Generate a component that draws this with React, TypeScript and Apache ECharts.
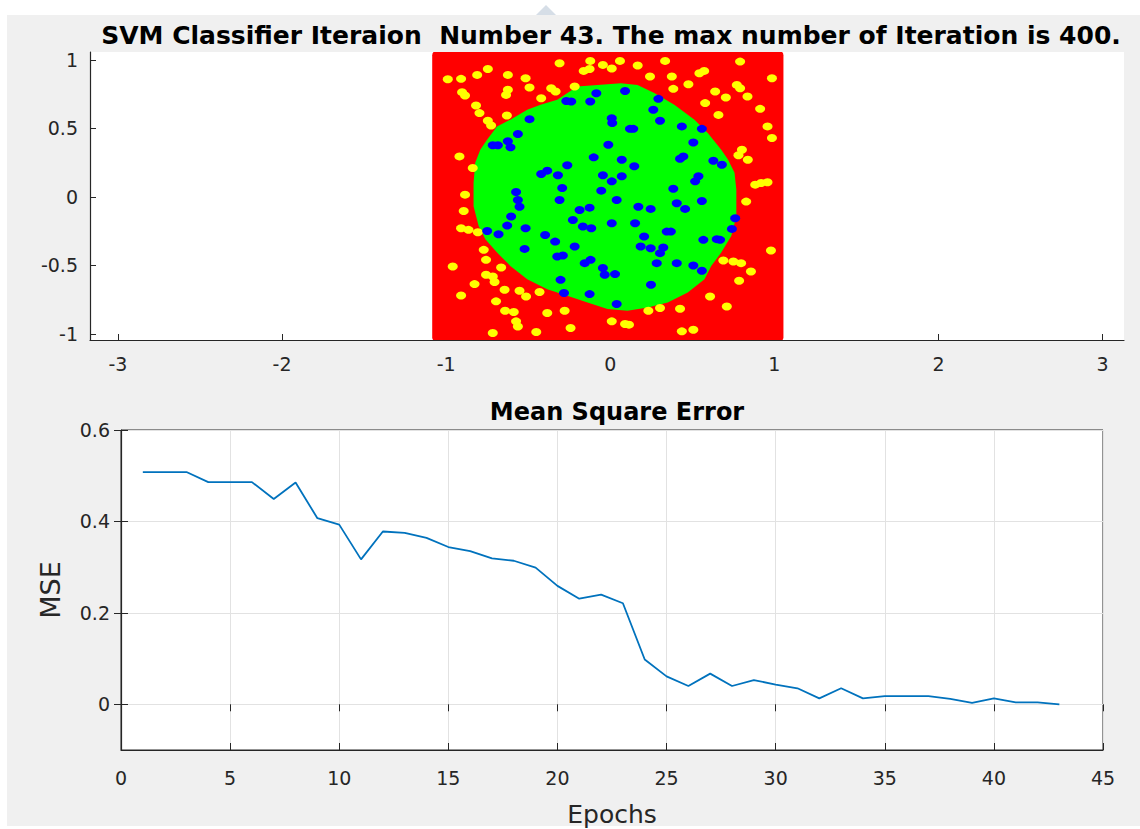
import React, { useEffect, useRef } from "react";
import * as echarts from "echarts";

// ---------- Data ----------
const titleTop = "SVM Classifier Iteraion  Number 43. The max number of Iteration is 400.";
const titleBottom = "Mean Square Error";

const xTicksTop = [-3, -2, -1, 0, 1, 2, 3];
const yTicksTop = [-1, -0.5, 0, 0.5, 1];
const yTicksBottom = [0, 0.2, 0.4, 0.6];

// red (class -1) decision region extent
const redX = [-1.085, 1.055];
const redY = [-1.06, 1.07];

// green (class +1) decision region boundary
const greenX = [-0.323, -0.201, -0.078, 0.064, 0.166, 0.268, 0.39, 0.513, 0.594, 0.676, 0.717, 0.757, 0.768, 0.768, 0.737, 0.676, 0.615, 0.574, 0.472, 0.35, 0.228, 0.105, -0.017, -0.139, -0.262, -0.384, -0.506, -0.609, -0.69, -0.761, -0.802, -0.833, -0.833, -0.823, -0.792, -0.751, -0.69, -0.609, -0.506, -0.425];
const greenY = [0.709, 0.806, 0.818, 0.83, 0.818, 0.758, 0.673, 0.564, 0.467, 0.345, 0.273, 0.176, 0.055, -0.14, -0.285, -0.406, -0.503, -0.6, -0.697, -0.77, -0.806, -0.83, -0.818, -0.77, -0.721, -0.673, -0.6, -0.503, -0.406, -0.309, -0.212, -0.067, 0.103, 0.249, 0.345, 0.418, 0.515, 0.564, 0.636, 0.673];

const yellowX = [
  -0.99, -0.909, -0.811, -0.746, -0.624, -0.516, -0.903, -0.885, -0.624, -0.635, -0.492, -0.36, -0.333, -0.421, -0.309, -0.217, -0.122, -0.162, -0.126, -0.045, -0.818, -0.797, -0.746, -0.726, -0.63, -0.919, -0.838, -0.885,
  0.059, 0.009, 0.167, 0.334, 0.242, 0.375, 0.384, 0.476, 0.543, 0.572, 0.791, 0.985, 0.639, 0.704, 0.771, 0.791, 0.836, 0.578, 0.659, 0.913, 0.958, 0.985, 0.802, 0.781, 0.838, 0.883, 0.919, 0.958,
  -0.893, -0.909, -0.864, -0.807, -0.771, -0.757, -0.96, -0.757, -0.716, -0.705, -0.665, -0.827, -0.909, -0.644, -0.553, -0.513, -0.431, -0.696, -0.641, -0.588, -0.574, -0.563, -0.384, -0.278, -0.716, -0.451, -0.242,
  0.828, 0.979, 0.689, 0.75, 0.797, 0.857, 0.785, 0.608, 0.71, 0.232, 0.303, 0.425, 0.009, 0.09, 0.114, 0.436, 0.506,
];
const yellowY = [
  0.859, 0.862, 0.891, 0.934, 0.891, 0.867, 0.765, 0.741, 0.782, 0.745, 0.799, 0.794, 0.77, 0.721, 0.976, 0.806, 0.993, 0.92, 0.934, 0.964, 0.668, 0.612, 0.556, 0.522, 0.595, 0.296, 0.211, 0.017,
  0.993, 0.937, 0.959, 0.993, 0.879, 0.879, 0.789, 0.823, 0.903, 0.92, 0.988, 0.867, 0.77, 0.726, 0.818, 0.794, 0.733, 0.685, 0.599, 0.643, 0.515, 0.43, 0.345, 0.304, 0.272, 0.09, 0.102, 0.107,
  -0.102, -0.228, -0.24, -0.257, -0.386, -0.459, -0.508, -0.568, -0.58, -0.621, -0.515, -0.636, -0.719, -0.677, -0.685, -0.726, -0.694, -0.762, -0.83, -0.84, -0.908, -0.945, -0.847, -0.83, -0.993, -0.985, -0.956,
  -0.034, -0.391, -0.464, -0.471, -0.483, -0.544, -0.612, -0.726, -0.799, -0.83, -0.811, -0.816, -0.908, -0.927, -0.932, -0.981, -0.969,
];

const blueX = [
  -0.085, -0.122, -0.268, -0.238, -0.492, -0.563, -0.624, -0.608, -0.716, -0.685, -0.101, -0.262, -0.421, -0.384, -0.319, -0.045, -0.293, -0.574, -0.055,
  0.09, 0.293, 0.262, 0.303, 0.009, 0.012, 0.12, 0.14, 0.436, 0.558, 0.506, -0.012, 0.445, 0.425, 0.07, 0.628, 0.68, 0.146, 0.07, 0.009, 0.537, 0.517, 0.384,
  -0.563, -0.553, -0.309, -0.187, -0.126, -0.604, -0.628, -0.75, -0.681, -0.516, -0.397, -0.336, -0.228, -0.167, -0.116, -0.217, -0.522, -0.323, -0.289, -0.156, -0.12, -0.045, -0.034, -0.303, -0.282, -0.126,
  0.039, 0.171, 0.246, 0.405, 0.456, 0.558, 0.009, 0.151, 0.206, 0.344, 0.369, 0.185, 0.246, 0.323, 0.303, 0.283, 0.405, 0.506, 0.558, 0.567, 0.649, 0.669, 0.741, 0.761, 0.029, 0.248, 0.039,
];
const blueY = [
  0.757, 0.697, 0.701, 0.697, 0.568, 0.459, 0.406, 0.362, 0.377, 0.377, 0.289, 0.231, 0.168, 0.192, 0.158, 0.158, 0.066, 0.036, 0.046,
  0.774, 0.716, 0.636, 0.556, 0.575, 0.539, 0.497, 0.497, 0.515, 0.497, 0.398, 0.381, 0.296, 0.279, 0.272, 0.264, 0.235, 0.224, 0.151, 0.114, 0.151, 0.114, 0.06,
  -0.022, -0.071, -0.022, -0.095, -0.078, -0.143, -0.209, -0.248, -0.272, -0.228, -0.277, -0.326, -0.168, -0.216, -0.228, -0.362, -0.379, -0.435, -0.427, -0.483, -0.459, -0.519, -0.568, -0.605, -0.701, -0.709,
  -0.022, -0.071, -0.087, -0.046, -0.087, -0.029, -0.192, -0.192, -0.289, -0.253, -0.253, -0.362, -0.374, -0.369, -0.41, -0.483, -0.483, -0.5, -0.539, -0.313, -0.308, -0.313, -0.233, -0.155, -0.563, -0.641, -0.781,
];

const epochs = [1, 2, 3, 4, 5, 6, 7, 8, 9, 10, 11, 12, 13, 14, 15, 16, 17, 18, 19, 20, 21, 22, 23, 24, 25, 26, 27, 28, 29, 30, 31, 32, 33, 34, 35, 36, 37, 38, 39, 40, 41, 42, 43];
const mse = [0.508, 0.508, 0.508, 0.486, 0.486, 0.486, 0.449, 0.485, 0.407, 0.393, 0.317, 0.378, 0.375, 0.364, 0.344, 0.335, 0.319, 0.314, 0.299, 0.259, 0.231, 0.24, 0.221, 0.098, 0.061, 0.04, 0.067, 0.04, 0.053, 0.043, 0.035, 0.013, 0.035, 0.013, 0.018, 0.018, 0.018, 0.012, 0.003, 0.013, 0.004, 0.004, 0.0];

// ---------- Styles ----------
const AX = "#262626";
const FONT = "DejaVu Sans";
const fmt = (v: number) => (v === 0 ? "0" : String(Number(v.toFixed(2))));

export default function App() {
  const ref = useRef<HTMLDivElement>(null);

  useEffect(() => {
    if (!ref.current) return;
    const chart = echarts.init(ref.current, null, { renderer: "svg" });

    const yellowData = yellowX.map((x, i) => [x, yellowY[i]]);
    const blueData = blueX.map((x, i) => [x, blueY[i]]);
    const lineData = epochs.map((e, i) => [e, mse[i]]);

    const labelStyle = { color: AX, fontSize: 19, fontFamily: FONT };

    chart.setOption({
      animation: false,
      backgroundColor: "transparent",
      title: [
        {
          text: titleTop,
          left: 606,
          top: 18,
          textAlign: "center",
          textStyle: { fontFamily: FONT, fontWeight: "bold", fontSize: 25, color: "#000" },
        },
        {
          text: titleBottom,
          left: 612,
          top: 395,
          textAlign: "center",
          textStyle: { fontFamily: FONT, fontWeight: "bold", fontSize: 24, color: "#000" },
        },
      ],
      grid: [
        { left: 90, top: 52, width: 1034, height: 288, show: true, backgroundColor: "#ffffff", borderWidth: 0 },
        { left: 121, top: 430, width: 982, height: 320, show: true, backgroundColor: "#ffffff", borderColor: AX, borderWidth: 1 },
      ],
      xAxis: [
        {
          gridIndex: 0,
          type: "value",
          min: -3.17,
          max: 3.13,
          position: "bottom",
          axisLine: { show: true, onZero: false, lineStyle: { color: AX, width: 1.2 } },
          axisTick: { show: true, inside: true, length: 6, customValues: xTicksTop, lineStyle: { color: AX } },
          axisLabel: { ...labelStyle, customValues: xTicksTop, formatter: fmt, margin: 14 },
          splitLine: { show: false },
        },
        {
          gridIndex: 1,
          type: "value",
          min: 0,
          max: 45,
          interval: 5,
          position: "bottom",
          axisLine: { show: true, onZero: false, lineStyle: { color: AX, width: 1.2 } },
          axisTick: { show: true, inside: true, length: 7, lineStyle: { color: AX } },
          axisLabel: { ...labelStyle, margin: 18 },
          splitLine: { show: true, lineStyle: { color: "#e2e2e2", width: 1 } },
          name: "Epochs",
          nameLocation: "middle",
          nameGap: 52,
          nameTextStyle: { color: AX, fontSize: 25, fontFamily: FONT },
        },
        {
          gridIndex: 1,
          type: "value",
          min: 0,
          max: 45,
          interval: 5,
          position: "top",
          axisLine: { show: false },
          axisTick: { show: true, inside: true, length: 7, lineStyle: { color: AX } },
          axisLabel: { show: false },
          splitLine: { show: false },
        },
      ],
      yAxis: [
        {
          gridIndex: 0,
          type: "value",
          min: -1.044,
          max: 1.058,
          position: "left",
          axisLine: { show: true, onZero: false, lineStyle: { color: AX, width: 1.2 } },
          axisTick: { show: true, inside: true, length: 6, customValues: yTicksTop, lineStyle: { color: AX } },
          axisLabel: { ...labelStyle, customValues: yTicksTop, formatter: fmt, margin: 12 },
          splitLine: { show: false },
        },
        {
          gridIndex: 1,
          type: "value",
          min: -0.1,
          max: 0.6,
          position: "left",
          axisLine: { show: true, onZero: false, lineStyle: { color: AX, width: 1.2 } },
          axisTick: { show: true, inside: true, length: 7, customValues: yTicksBottom, lineStyle: { color: AX } },
          axisLabel: { ...labelStyle, customValues: yTicksBottom, formatter: fmt, margin: 11 },
          splitLine: { show: true, lineStyle: { color: "#e2e2e2", width: 1 } },
          name: "MSE",
          nameLocation: "middle",
          nameGap: 57,
          nameRotate: 90,
          nameTextStyle: { color: AX, fontSize: 27, fontFamily: FONT },
        },
        {
          gridIndex: 1,
          type: "value",
          min: -0.1,
          max: 0.6,
          position: "right",
          axisLine: { show: false },
          axisTick: { show: true, inside: true, length: 7, customValues: yTicksBottom, lineStyle: { color: AX } },
          axisLabel: { show: false },
          splitLine: { show: false },
        },
      ],
      graphic: [
        {
          type: "polygon",
          shape: { points: [[536, 15], [546, 5], [556, 15]] },
          style: { fill: "#d6dee7" },
          silent: true,
        },
      ],
      series: [
        {
          type: "custom",
          xAxisIndex: 0,
          yAxisIndex: 0,
          clip: true,
          silent: true,
          z: 1,
          data: [[redX[0], redY[0]]],
          renderItem: (_p: any, api: any) => {
            const a = api.coord([redX[0], redY[1]]);
            const b = api.coord([redX[1], redY[0]]);
            return {
              type: "rect",
              shape: { x: a[0], y: a[1], width: b[0] - a[0], height: b[1] - a[1], r: 5 },
              style: { fill: "#ff0000" },
            };
          },
        },
        {
          type: "custom",
          xAxisIndex: 0,
          yAxisIndex: 0,
          clip: true,
          silent: true,
          z: 2,
          data: [[greenX[0], greenY[0]]],
          renderItem: (_p: any, api: any) => ({
            type: "polygon",
            shape: { points: greenX.map((x, i) => api.coord([x, greenY[i]])) },
            style: { fill: "#00ff00" },
          }),
        },
        {
          type: "scatter",
          xAxisIndex: 0,
          yAxisIndex: 0,
          z: 3,
          symbol: "circle",
          symbolSize: [10, 8],
          itemStyle: { color: "#ffff00", opacity: 1 },
          data: yellowData,
        },
        {
          type: "scatter",
          xAxisIndex: 0,
          yAxisIndex: 0,
          z: 4,
          symbol: "circle",
          symbolSize: [10, 8],
          itemStyle: { color: "#0000ff", opacity: 1 },
          data: blueData,
        },
        {
          type: "line",
          xAxisIndex: 1,
          yAxisIndex: 1,
          z: 5,
          showSymbol: false,
          symbol: "none",
          lineStyle: { color: "#0072bd", width: 1.8 },
          data: lineData,
        },
      ],
    });

    return () => chart.dispose();
  }, []);

  return (
    <div style={{ position: "fixed", left: 0, top: 0, width: 1140, height: 829, background: "#ffffff" }}>
      <div style={{ position: "absolute", left: 7, top: 15, width: 1133, height: 811, background: "#f0f0f0" }} />
      <div ref={ref} style={{ position: "absolute", left: 0, top: 0, width: 1140, height: 829 }} />
    </div>
  );
}
